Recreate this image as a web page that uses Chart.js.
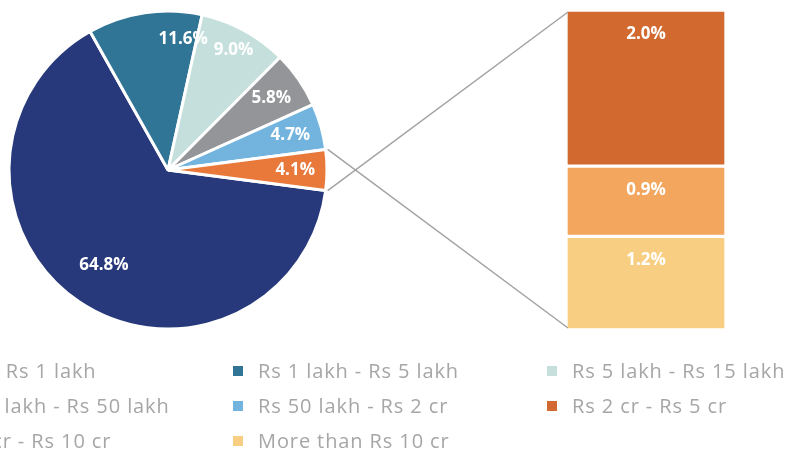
<!DOCTYPE html>
<html>
<head>
<meta charset="utf-8">
<script src="https://cdn.jsdelivr.net/npm/chart.js@4.4.1/dist/chart.umd.min.js"></script>
<style>
  html, body { margin: 0; padding: 0; background: #fff; }
  #wrap { position: relative; width: 791px; height: 450px; overflow: hidden; font-family: 'Open Sans', sans-serif; }
  #pie { position: absolute; left: 0; top: 0; }
  #bar { position: absolute; left: 566px; top: 10px; }
  #links { position: absolute; left: 0; top: 0; pointer-events: none; }
  #legend { position: absolute; left: -81px; top: 353px; display: grid; grid-template-columns: 314px 314px 314px; grid-auto-rows: 35px; }
  .item { display: flex; align-items: center; font-size: 20px; letter-spacing: 0.9px; color: #a6a6a6; white-space: nowrap; }
  .box { width: 10px; height: 10px; margin-right: 15px; flex: none; }
</style>
</head>
<body>
<div id="wrap">
  <canvas id="pie" width="336" height="340"></canvas>
  <canvas id="bar" width="160" height="320"></canvas>
  <canvas id="links" width="791" height="450"></canvas>
  <div id="legend"></div>
</div>
<script>
// categories (legend order)
const categories = ['Up to Rs 1 lakh', 'Rs 1 lakh - Rs 5 lakh', 'Rs 5 lakh - Rs 15 lakh', 'Rs 15 lakh - Rs 50 lakh',
  'Rs 50 lakh - Rs 2 cr', 'Rs 2 cr - Rs 5 cr', 'Rs 5 cr - Rs 10 cr', 'More than Rs 10 cr'];
const categoryColors = ['#27397b', '#317596', '#c5e0dc', '#939598', '#73b4de', '#d2692f', '#f2a65e', '#f8cf82'];

// pie: first five categories + the grouped slice
const pieLabels = ['Up to Rs 1 lakh', 'Rs 1 lakh - Rs 5 lakh', 'Rs 5 lakh - Rs 15 lakh', 'Rs 15 lakh - Rs 50 lakh', 'Rs 50 lakh - Rs 2 cr', 'Other'];
const pieValues = [64.8, 11.6, 9.0, 5.8, 4.7, 4.1];
const pieColors = ['#27397b', '#317596', '#c5e0dc', '#939598', '#73b4de', '#e8793a'];

// bar: breakdown of the grouped slice (top to bottom)
const barLabels = ['Rs 2 cr - Rs 5 cr', 'Rs 5 cr - Rs 10 cr', 'More than Rs 10 cr'];
const barValues = [2.0, 0.9, 1.2];
const barColors = ['#d2692f', '#f2a65e', '#f8cf82'];

// label placement inside slices: fraction along the slice angle, fraction of radius
const labelAngleFrac = [0.5, 0.86, 0.5, 0.5, 0.5, 0.5];
const labelRadiusFrac = [0.72, 0.83, 0.86, 0.79, 0.8, 0.8];

const labelFont = "bold 17px 'Open Sans', sans-serif";

const otherShare = pieValues[pieValues.length - 1];
const rotation = 90 + otherShare / 100 * 360 / 2;

const pieLabelPlugin = {
  id: 'pieLabels',
  afterDatasetsDraw(chart) {
    const ctx = chart.ctx;
    const arcs = chart.getDatasetMeta(0).data;
    ctx.save();
    ctx.font = labelFont;
    ctx.fillStyle = '#fff';
    ctx.textAlign = 'center';
    ctx.textBaseline = 'middle';
    arcs.forEach(function(arc, i) {
      const a = arc.startAngle + (arc.endAngle - arc.startAngle) * labelAngleFrac[i];
      const r = arc.outerRadius * labelRadiusFrac[i];
      ctx.fillText(pieValues[i].toFixed(1) + '%', arc.x + Math.cos(a) * r, arc.y + Math.sin(a) * r);
    });
    ctx.restore();
  }
};

const barLabelPlugin = {
  id: 'barLabels',
  afterDatasetsDraw(chart) {
    const ctx = chart.ctx;
    ctx.save();
    ctx.font = labelFont;
    ctx.fillStyle = '#fff';
    ctx.textAlign = 'center';
    ctx.textBaseline = 'middle';
    chart.data.datasets.forEach(function(ds, i) {
      const el = chart.getDatasetMeta(i).data[0];
      ctx.fillText(ds.data[0].toFixed(1) + '%', el.x, el.y + 24);
    });
    ctx.restore();
  }
};

const pieChart = new Chart(document.getElementById('pie'), {
  type: 'pie',
  data: {
    labels: pieLabels,
    datasets: [{
      data: pieValues,
      backgroundColor: pieColors,
      borderColor: '#fff',
      borderWidth: 3,
      radius: 159
    }]
  },
  options: {
    responsive: false,
    animation: false,
    rotation: rotation,
    layout: { padding: 0 },
    plugins: { legend: { display: false }, tooltip: { enabled: false } }
  },
  plugins: [pieLabelPlugin]
});

// stacked from bottom up
const barDatasets = barValues.map(function(v, i) {
  return {
    label: barLabels[i],
    data: [v],
    backgroundColor: barColors[i],
    borderColor: '#fff',
    borderWidth: 2,
    borderSkipped: false,
    barPercentage: 1,
    categoryPercentage: 1
  };
}).reverse();

const barChart = new Chart(document.getElementById('bar'), {
  type: 'bar',
  data: { labels: ['Other'], datasets: barDatasets },
  options: {
    responsive: false,
    animation: false,
    layout: { padding: 0 },
    scales: {
      x: { stacked: true, display: false },
      y: { stacked: true, display: false, min: 0, max: otherShare }
    },
    plugins: { legend: { display: false }, tooltip: { enabled: false } }
  },
  plugins: [barLabelPlugin]
});

// connector lines from the grouped slice to the bar
function drawLinks() {
  const ctx = document.getElementById('links').getContext('2d');
  const arc = pieChart.getDatasetMeta(0).data[pieValues.length - 1];
  const metas = barChart.data.datasets.map(function(d, i) { return barChart.getDatasetMeta(i).data[0]; });
  const barCanvas = document.getElementById('bar');
  const ox = barCanvas.offsetLeft, oy = barCanvas.offsetTop;
  const topEl = metas[metas.length - 1], botEl = metas[0];
  const left = ox + topEl.x - topEl.width / 2 + 2;
  const r = arc.outerRadius + 2;
  ctx.strokeStyle = '#a3a3a3';
  ctx.lineWidth = 1.5;
  ctx.beginPath();
  ctx.moveTo(arc.x + Math.cos(arc.endAngle) * r, arc.y + Math.sin(arc.endAngle) * r);
  ctx.lineTo(left, oy + topEl.y + 2);
  ctx.moveTo(arc.x + Math.cos(arc.startAngle) * r, arc.y + Math.sin(arc.startAngle) * r);
  ctx.lineTo(left, oy + botEl.base - 2);
  ctx.stroke();
}
drawLinks();

// legend, three columns
const legend = document.getElementById('legend');
categories.forEach(function(c, i) {
  const item = document.createElement('div');
  item.className = 'item';
  item.innerHTML = '<span class="box" style="background:' + categoryColors[i] + '"></span><span>' + c + '</span>';
  legend.appendChild(item);
});
</script>
</body>
</html>
